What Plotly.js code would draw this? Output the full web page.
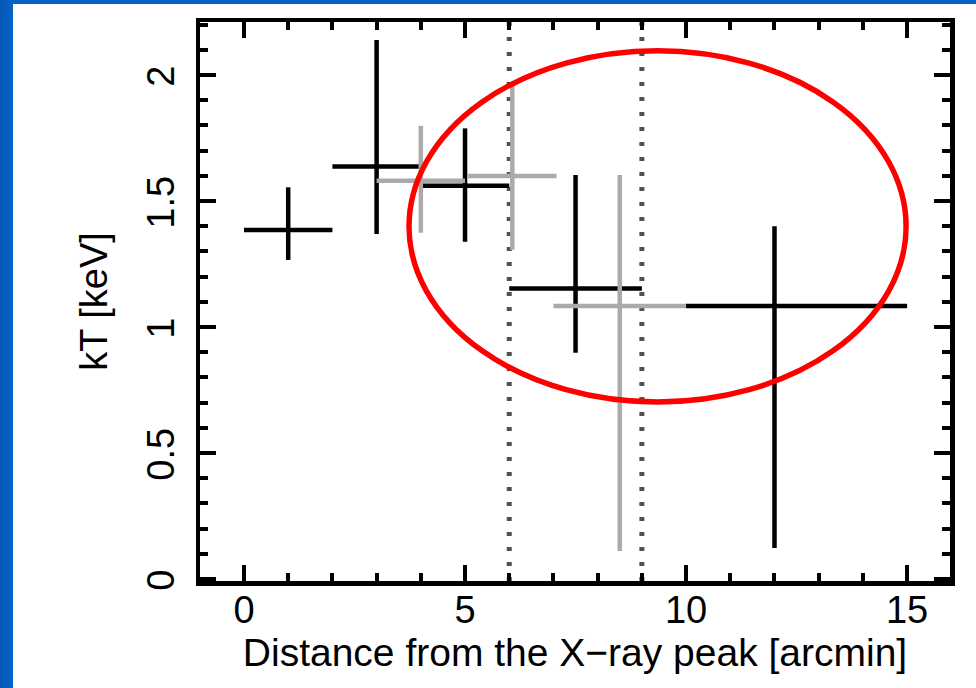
<!DOCTYPE html>
<html>
<head>
<meta charset="utf-8">
<script src="https://cdn.plot.ly/plotly-3.0.1.min.js"></script>
<style>
  html, body { margin: 0; padding: 0; width: 976px; height: 688px; overflow: hidden;
    background: linear-gradient(to right, #0358b8 0px, #0563c6 13px); }
  #chart { position: absolute; left: 13px; top: 4px; width: 963px; height: 684px; background: #ffffff; }
</style>
</head>
<body>
<div id="chart"></div>
<script>
// Black series (first data set)
const blackX         = [1, 3, 5, 7.5, 12];
const blackXErrPlus  = [1, 1, 1, 1.5, 3];
const blackXErrMinus = [1, 1, 1, 1.5, 2];
const blackY         = [1.385, 1.637, 1.560, 1.153, 1.083];
const blackYPlus     = [0.169, 0.502, 0.228, 0.450, 0.317];
const blackYMinus    = [0.119, 0.268, 0.222, 0.255, 0.960];

// Gray series (second data set)
const grayX         = [4, 6.07, 8.5];
const grayXErrPlus  = [1, 1.0, 1.5];
const grayXErrMinus = [1, 1.0, 1.5];
const grayY         = [1.580, 1.599, 1.083];
const grayYPlus     = [0.218, 0.360, 0.520];
const grayYMinus    = [0.206, 0.293, 0.972];

// Boundaries (dotted lines) and highlighted region
const boundaryX = [6, 9];
const ellipseX = [3.733, 14.977];
const ellipseY = [0.702, 2.096];

const xTitle = "Distance from the X\u2212ray peak [arcmin]";
const yTitle = "kT [keV]";

function errTrace(x, xp, xm, y, yp, ym, color) {
  return {
    type: 'scatter', mode: 'markers',
    x: x, y: y,
    marker: {color: 'rgba(0,0,0,0)', size: 1},
    error_x: {type: 'data', symmetric: false, array: xp, arrayminus: xm, color: color, thickness: 4.5, width: 0},
    error_y: {type: 'data', symmetric: false, array: yp, arrayminus: ym, color: color, thickness: 4.5, width: 0},
    hoverinfo: 'skip', showlegend: false
  };
}

const data = [
  errTrace(blackX, blackXErrPlus, blackXErrMinus, blackY, blackYPlus, blackYMinus, '#000000'),
  errTrace(grayX, grayXErrPlus, grayXErrMinus, grayY, grayYPlus, grayYMinus, '#aaaaaa')
];

const shapes = boundaryX.map(v => ({
  type: 'line', xref: 'x', yref: 'paper', x0: v, x1: v, y0: 0, y1: 1,
  line: {color: '#505050', width: 5, dash: '4px,11px'}, layer: 'below'
}));
shapes.push({
  type: 'circle', xref: 'x', yref: 'y',
  x0: ellipseX[0], x1: ellipseX[1], y0: ellipseY[0], y1: ellipseY[1],
  line: {color: '#ff0000', width: 5.5}, layer: 'above'
});

const font = {family: '"Liberation Sans", Arial, Helvetica, sans-serif', size: 38, color: '#000000'};
const xTitleFont = {family: '"Liberation Sans", Arial, Helvetica, sans-serif', size: 39, color: '#000000'};

const axisCommon = {
  showline: true, linecolor: '#000000', linewidth: 4.5, mirror: 'allticks',
  ticks: 'inside', ticklen: 16, tickwidth: 4, tickcolor: '#000000',
  showgrid: false, zeroline: false, tickfont: font, fixedrange: true
};

const layout = {
  width: 963, height: 684,
  margin: {l: 187, r: 26, t: 18, b: 107, pad: 0},
  paper_bgcolor: '#ffffff', plot_bgcolor: '#ffffff',
  showlegend: false,
  font: font,
  xaxis: Object.assign({}, axisCommon, {
    range: [-0.995, 15.97], tick0: 0, dtick: 5,
    ticklabelstandoff: -8,
    minor: {dtick: 1, ticks: 'inside', ticklen: 8, tickwidth: 4, tickcolor: '#000000'},
    title: {text: xTitle, font: xTitleFont, standoff: 6}
  }),
  yaxis: Object.assign({}, axisCommon, {
    range: [-0.008, 2.21], tick0: 0, dtick: 0.5, tickangle: -90,
    ticklabelstandoff: 6, ticklabelshift: 7,
    minor: {dtick: 0.1, ticks: 'inside', ticklen: 8, tickwidth: 4, tickcolor: '#000000'},
    title: {text: yTitle, font: font, standoff: 22}
  }),
  shapes: shapes
};

Plotly.newPlot('chart', data, layout, {displayModeBar: false, staticPlot: true});
</script>
</body>
</html>
